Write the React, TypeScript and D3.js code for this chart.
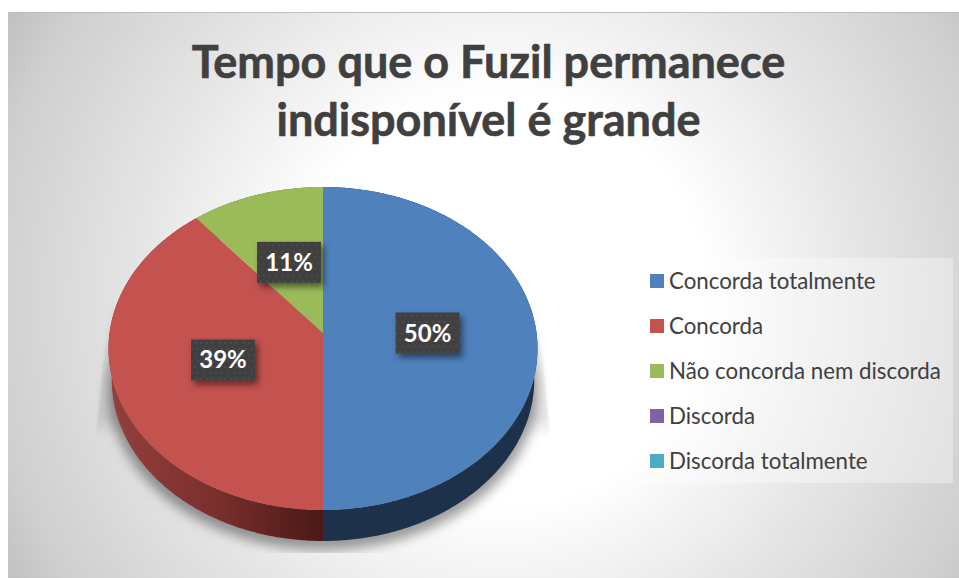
import React from "react";
import * as d3 from "d3";

const categories = ["Concorda totalmente", "Concorda", "Não concorda nem discorda", "Discorda", "Discorda totalmente"];
const values = [50, 39, 11, 0, 0];
const colors = ["#4f81bd", "#c4524f", "#9bbb59", "#8064a2", "#4bacc6"];
const titleLines = ["Tempo que o Fuzil permanece", "indisponível é grande"];

const width = 959;
const height = 578;
const cx = 323;
const cy = 333;
const depth = 31;
const rx = 213.5;
const ry = 160;
const tilt = -0.096; // perspective of the 3D pie
const bottomShrink = 0.985; // lower rim is a bit narrower than the top face
const labelRadius = 0.49;

// project a point of the flat pie (angle from top, clockwise) to the screen
const project = (a: number, r = 1): [number, number] => {
  const x = Math.sin(a) * r;
  const y = -Math.cos(a) * r;
  const w = 1 + tilt * y;
  return [cx + (rx * x) / w, cy + (ry * y) / w];
};
const lower = ([x, y]: [number, number]): [number, number] => [cx + (x - cx) * bottomShrink, y + depth];

const line = d3.line();
const angles = (a0: number, a1: number) => {
  const n = Math.max(2, Math.ceil((a1 - a0) / 0.01));
  return d3.range(n + 1).map((i) => a0 + ((a1 - a0) * i) / n);
};

const pie = d3.pie<number>().sort(null);
const arcs = pie(values).filter((d) => d.value > 0);
const color = d3.scaleOrdinal<number, string>().domain(d3.range(categories.length)).range(colors);
const legendY = d3.scalePoint<string>().domain(categories).range([281, 461]);

const topPath = (d: d3.PieArcDatum<number>) =>
  line([[cx, cy], ...angles(d.startAngle, d.endAngle).map((a) => project(a))]) + "Z";

const wallPath = (d: d3.PieArcDatum<number>) => {
  const top = angles(d.startAngle, d.endAngle).map((a) => project(a));
  return line([...top, ...top.map(lower).reverse()]) + "Z";
};

const lowerOutline = line(angles(0, Math.PI * 2).map((a) => lower(project(a)))) + "Z";

// faint straight-sided cast behind the pie
const castTop = cy - 33;
const castBottom = cy + 105;
const cast = line([
  [cx - rx, castTop],
  [cx + rx, castTop],
  [cx + rx * 1.065, castBottom],
  [cx - rx * 1.065, castBottom],
]) + "Z";

export default function App() {
  return (
    <svg width={width} height={height} style={{ position: "absolute", left: 0, top: 0 }}>
      <defs>
        <radialGradient id="bg" gradientUnits="userSpaceOnUse" cx={500} cy={300} r={570}>
          <stop offset="0.36" stopColor="#ffffff" />
          <stop offset="0.64" stopColor="#e5e5e5" />
          <stop offset="0.9" stopColor="#cfcfcf" />
          <stop offset="1" stopColor="#c0c0c0" />
        </radialGradient>
        <linearGradient id="redWall" gradientUnits="userSpaceOnUse" x1={108} y1={0} x2={323} y2={0}>
          <stop offset="0" stopColor="#94403d" />
          <stop offset="0.5" stopColor="#7a2f2d" />
          <stop offset="1" stopColor="#4a1917" />
        </linearGradient>
        <linearGradient id="castFill" x1="0" y1="0" x2="0" y2="1">
          <stop offset="0" stopColor="#000" stopOpacity="0" />
          <stop offset="0.85" stopColor="#000" stopOpacity="0.1" />
          <stop offset="1" stopColor="#000" stopOpacity="0" />
        </linearGradient>
        <filter id="blur" x="-20%" y="-20%" width="140%" height="140%">
          <feGaussianBlur stdDeviation="6" />
        </filter>
        <filter id="castBlur" x="-10%" y="-10%" width="120%" height="120%">
          <feGaussianBlur stdDeviation="1" />
        </filter>
        <filter id="boxShadow" x="-30%" y="-30%" width="170%" height="170%">
          <feDropShadow dx="3" dy="4" stdDeviation="3" floodColor="#000" floodOpacity="0.5" />
        </filter>
        <pattern id="dots" width="12" height="12" patternUnits="userSpaceOnUse" x={-29} y={-18}>
          <rect width="12" height="12" fill="#404040" />
          <rect x="0" y="0" width="2" height="2" fill="#4c4c4c" />
          <rect x="6" y="0" width="2" height="2" fill="#4c4c4c" />
          <rect x="3" y="6" width="2" height="2" fill="#4c4c4c" />
          <rect x="9" y="6" width="2" height="2" fill="#4c4c4c" />
        </pattern>
        <clipPath id="shadowClip">
          <rect x={60} y={290} width={530} height={263} />
        </clipPath>
      </defs>

      <rect x={8} y={12} width={width - 8} height={height - 12} fill="url(#bg)" />
      <line x1={8} x2={width} y1={12.5} y2={12.5} stroke="#bdbdbd" />

      {titleLines.map((t, i) => (
        <text
          key={t}
          x={488.5}
          y={78 + i * 58}
          textAnchor="middle"
          fontFamily="Lato"
          fontWeight={700}
          fontSize={45}
          fill="#404040"
          stroke="#404040"
          strokeWidth={0.6}
        >
          {t}
        </text>
      ))}

      <path d={cast} fill="url(#castFill)" filter="url(#castBlur)" />
      <g clipPath="url(#shadowClip)">
        <path
          d={lowerOutline}
          fill="#000"
          fillOpacity={0.38}
          filter="url(#blur)"
          transform={`translate(${cx} ${cy + 9}) scale(1.015 1) translate(${-cx} ${-cy})`}
        />
      </g>

      {arcs.map((d) => (
        <path key={d.index} d={wallPath(d)} fill={d.index === 1 ? "url(#redWall)" : d.index === 0 ? "#1d314b" : "#5d7030"} />
      ))}
      {arcs.map((d) => (
        <path key={d.index} d={topPath(d)} fill={color(d.index)} />
      ))}

      {arcs.map((d) => {
        const [x, y] = project((d.startAngle + d.endAngle) / 2, labelRadius);
        return (
          <g key={d.index} transform={`translate(${x} ${y})`}>
            <rect x={-32} y={-20.5} width={64} height={41} fill="url(#dots)" filter="url(#boxShadow)" />
            <text y={8.5} textAnchor="middle" fontFamily="Lato" fontWeight={700} fontSize={24} fill="#ffffff">
              {`${d.value}%`}
            </text>
          </g>
        );
      })}

      <rect x={637} y={258} width={316} height={225} fill="#ffffff" fillOpacity={0.35} />
      {categories.map((c, i) => (
        <g key={c} transform={`translate(0 ${legendY(c)})`}>
          <rect x={650} y={-7} width={14} height={14} fill={color(i)} />
          <text x={669} y={8} fontFamily="Lato" fontSize={22.3} fill="#404040">
            {c}
          </text>
        </g>
      ))}
    </svg>
  );
}
